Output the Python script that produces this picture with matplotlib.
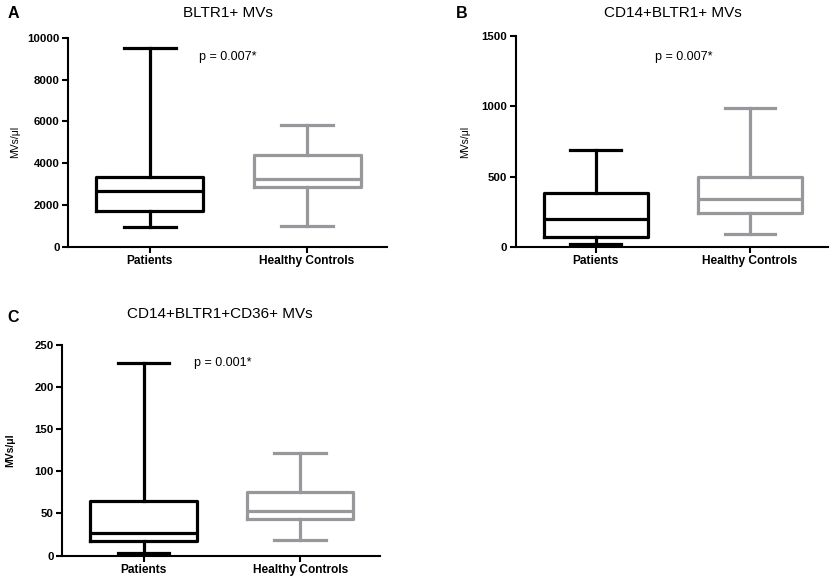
import matplotlib
matplotlib.use("Agg")
import matplotlib.pyplot as plt

plt.rcParams['font.family'] = ['Liberation Sans', 'DejaVu Sans']

groups = ["Patients", "Healthy Controls"]

# panel A: BLTR1+ MVs  (min, q1, median, q3, max)
a_pat = [955, 1736, 2660, 3360, 9490]
a_hc = [1019, 2882, 3248, 4411, 5828]
# panel B: CD14+BLTR1+ MVs
b_pat = [19, 71, 203, 381, 691]
b_hc = [95, 244, 341, 499, 989]
# panel C: CD14+BLTR1+CD36+ MVs
c_pat = [2.8, 17.4, 26.8, 64.3, 228.7]
c_hc = [18.1, 43.0, 52.4, 75.3, 121.5]

titles = ["BLTR1+ MVs", "CD14+BLTR1+ MVs", "CD14+BLTR1+CD36+ MVs"]
letters = ["A", "B", "C"]
pvals = ["p = 0.007*", "p = 0.007*", "p = 0.001*"]
yticks = [[0, 2000, 4000, 6000, 8000, 10000],
          [0, 500, 1000, 1500],
          [0, 50, 100, 150, 200, 250]]

colors = ["black", "#98989c"]

fig = plt.figure(figsize=(8.36, 5.8), dpi=100)
rects = [[0.0813, 0.574, 0.382, 0.361],
         [0.617, 0.574, 0.374, 0.364],
         [0.0745, 0.042, 0.380, 0.364]]
data = [(a_pat, a_hc), (b_pat, b_hc), (c_pat, c_hc)]
ptext_pos = [(228, 57), (684, 57), (223, 363)]
title_pos = [(228, 13), (673, 13), (220, 314)]
letter_pos = [(13, 13), (462, 13), (13, 317)]
ylabel_x = [15, 465, 10]

for i, rect in enumerate(rects):
    ax = fig.add_axes(rect)
    for j, vals in enumerate(data[i]):
        st = dict(whislo=vals[0], q1=vals[1], med=vals[2], q3=vals[3],
                  whishi=vals[4], fliers=[])
        c = colors[j]
        lw = 2.3
        ax.bxp([st], positions=[j + 1], widths=0.68, showfliers=False,
               boxprops=dict(color=c, linewidth=lw),
               whiskerprops=dict(color=c, linewidth=lw),
               capprops=dict(color=c, linewidth=lw),
               medianprops=dict(color=c, linewidth=lw),
               capwidths=0.33)
    ax.set_xlim(0.48, 2.51)
    ax.set_ylim(0, yticks[i][-1])
    ax.set_yticks(yticks[i])
    ax.set_xticks([1, 2])
    ax.set_xticklabels(groups, fontsize=8.6, fontweight='bold')
    for lab in ax.get_yticklabels():
        lab.set_fontsize(8.2)
        lab.set_fontweight('bold')
    for s in ['top', 'right']:
        ax.spines[s].set_visible(False)
    for s in ['left', 'bottom']:
        ax.spines[s].set_linewidth(1.5)
    ax.tick_params(direction='out', length=4, width=1.5, pad=2)

    fig.text(ylabel_x[i] / 836, rect[1] + rect[3] / 2,
             "MVs/μl", rotation=90, ha='center', va='center', fontsize=7.5,
             fontweight='bold' if i == 2 else 'normal')
    tx, ty = title_pos[i]
    fig.text(tx / 836, 1 - ty / 580, titles[i], ha='center', va='center', fontsize=11)
    lx, ly = letter_pos[i]
    fig.text(lx / 836, 1 - ly / 580, letters[i], ha='center', va='center',
             fontsize=11.5, fontweight='bold')
    px, py = ptext_pos[i]
    fig.text(px / 836, 1 - py / 580, pvals[i], ha='center', va='center', fontsize=9)

fig.savefig("out.png", dpi=100)
